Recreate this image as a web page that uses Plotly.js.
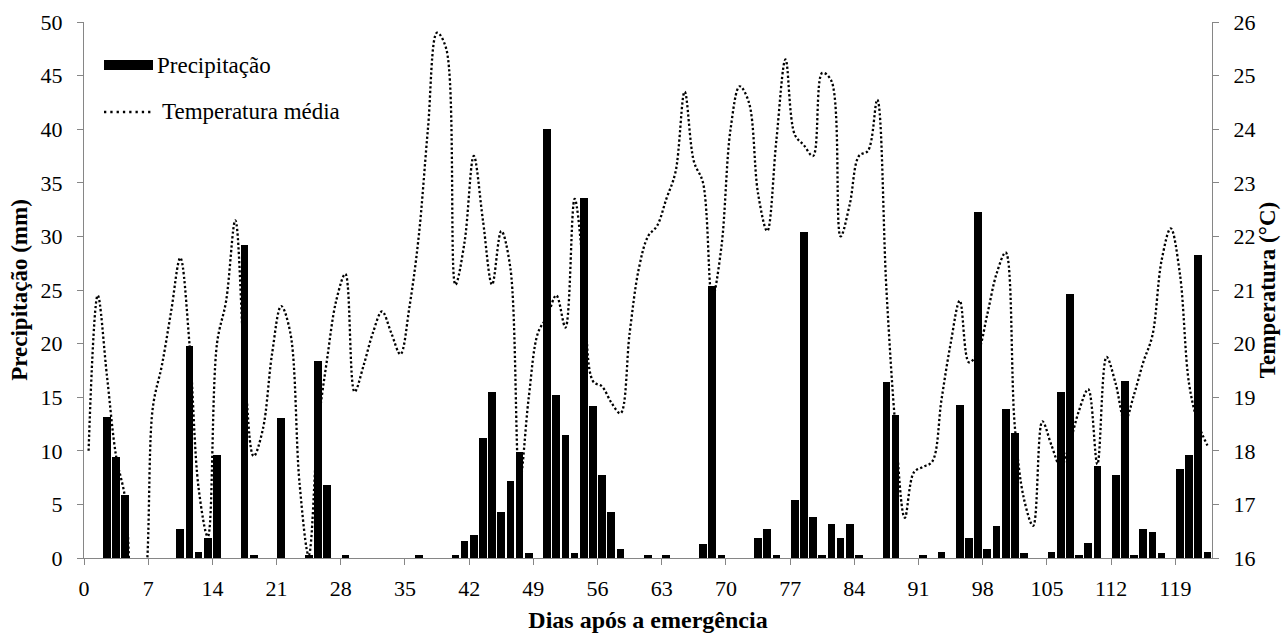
<!DOCTYPE html>
<html>
<head>
<meta charset="utf-8">
<script src="https://cdn.plot.ly/plotly-3.0.1.min.js"></script>
<style>html,body{margin:0;padding:0;background:#fff;}#chart{width:1288px;height:635px;}</style>
</head>
<body>
<div id="chart"></div>
<script>
// Day index (days after emergence), one per daily record
const days = [1,2,3,4,5,6,7,8,9,10,11,12,13,14,15,16,17,18,19,20,21,22,23,24,25,26,27,28,29,30,
  31,32,33,34,35,36,37,38,39,40,41,42,43,44,45,46,47,48,49,50,51,52,53,54,55,56,57,58,59,60,
  61,62,63,64,65,66,67,68,69,70,71,72,73,74,75,76,77,78,79,80,81,82,83,84,85,86,87,88,89,90,
  91,92,93,94,95,96,97,98,99,100,101,102,103,104,105,106,107,108,109,110,111,112,113,114,115,116,117,118,119,120,
  121,122,123];

// Precipitação (mm)
const precipitacao = [0,0,13.2,9.4,5.9,0,0,0,0,0,2.7,19.8,0.6,1.9,9.6,0,0,29.2,0.3,0,
  0,13.1,0,0,0.3,18.4,6.8,0,0.3,0,0,0,0,0,0,0,0.3,0,0,0,
  0.3,1.6,2.1,11.2,15.5,4.3,7.2,9.9,0.5,0,40.0,15.2,11.5,0.5,33.6,14.2,7.7,4.3,0.8,0,
  0,0.3,0,0.3,0,0,0,1.3,25.4,0.3,0,0,0,1.9,2.7,0.3,0,5.4,30.4,3.8,
  0.3,3.2,1.9,3.2,0.3,0,0,16.4,13.3,0,0,0.3,0,0.6,0,14.3,1.9,32.3,0.8,3.0,
  13.9,11.7,0.5,0,0,0.6,15.5,24.6,0.3,1.4,8.6,0,7.7,16.5,0.3,2.7,2.4,0.5,0,8.3,
  9.6,28.3,0.6];

// Temperatura média (°C)
const temperatura = [18.0,20.9,19.4,17.9,17.1,14.9,15.3,18.8,19.6,20.6,21.6,20.0,17.3,16.4,20.0,20.8,22.3,19.6,17.9,18.4,
  19.8,20.7,20.2,17.4,16.05,18.4,19.7,20.8,21.3,19.1,19.6,20.2,20.6,20.2,19.8,20.7,22.0,24.0,25.8,25.5,
  21.1,21.9,23.5,22.3,21.1,22.1,21.4,17.4,19.0,20.2,20.5,20.9,20.3,22.7,21.3,19.3,19.2,18.9,18.7,20.2,
  21.4,22.0,22.2,22.7,23.2,24.7,23.4,23.0,20.85,21.8,24.0,24.8,24.5,22.8,22.1,23.8,25.3,23.9,23.7,23.5,
  25.05,24.9,22.0,22.6,23.5,23.6,24.55,21.0,18.4,16.75,17.6,17.7,17.8,18.95,20.0,20.8,19.65,19.85,20.55,21.3,
  21.7,18.45,17.1,16.6,18.55,18.1,17.7,18.15,18.75,19.15,17.75,19.75,19.25,18.55,19.05,19.65,20.15,21.55,22.15,21.3,
  19.25,18.5,18.1];

// Tick labels of the day axis
const dayTicks = [0,7,14,21,28,35,42,49,56,63,70,77,84,91,98,105,112,119];
const precipTicks = [0,5,10,15,20,25,30,35,40,45,50];
const tempTicks = [16,17,18,19,20,21,22,23,24,25,26];

const FONT = 'Liberation Serif';
const AX = '#868686';
const TICK = 22, TITLE = 23, LEG = 23;

// each daily record occupies the interval (d-1, d) of the axis
const xPos = days.map(d => d - 0.5);

const traces = [
  {
    type: 'bar', name: 'Precipitação', x: xPos, y: precipitacao,
    width: 0.84, marker: {color: '#000000', line: {width: 0}},
    yaxis: 'y', hoverinfo: 'x+y'
  },
  {
    type: 'scatter', mode: 'lines', name: 'Temperatura média', x: xPos, y: temperatura,
    yaxis: 'y2', line: {color: '#000000', width: 2.3, dash: '2.3px,2.3px', shape: 'spline', smoothing: 1}
  }
];

// legend drawn in the plot area (paper coords)
const L = 84, R = 1212, T = 22, B = 558;
const px = v => (v - L) / (R - L);
const py = v => (B - v) / (B - T);

const layout = {
  width: 1288, height: 635,
  margin: {l: 84, r: 76, t: 22, b: 77, pad: 0},
  paper_bgcolor: '#ffffff', plot_bgcolor: '#ffffff',
  showlegend: false,
  bargap: 0,
  font: {family: FONT, size: TICK, color: '#000000'},
  xaxis: {
    range: [0, 123], tickvals: dayTicks, ticktext: dayTicks.map(String),
    ticks: 'outside', ticklen: 6, tickwidth: 1, tickcolor: AX,
    showline: true, linecolor: AX, linewidth: 1,
    showgrid: false, zeroline: false, ticklabelstandoff: 5,
    tickfont: {family: FONT, size: TICK, color: '#000'},
    title: {text: '<b>Dias após a emergência</b>', font: {family: FONT, size: 24, color: '#000'}, standoff: 10}
  },
  yaxis: {
    range: [0, 50], tickvals: precipTicks,
    ticks: 'outside', ticklen: 6, tickwidth: 1, tickcolor: AX,
    showline: true, linecolor: AX, linewidth: 1,
    showgrid: false, zeroline: false, ticklabelstandoff: 10,
    tickfont: {family: FONT, size: TICK, color: '#000'},
    title: {text: '<b>Precipitação (mm)</b>', font: {family: FONT, size: TITLE, color: '#000'}, standoff: 6}
  },
  yaxis2: {
    range: [16, 26], tickvals: tempTicks, overlaying: 'y', side: 'right',
    ticks: 'outside', ticklen: 6, tickwidth: 1, tickcolor: AX,
    showline: true, linecolor: AX, linewidth: 1,
    showgrid: false, zeroline: false, ticklabelstandoff: 10,
    tickfont: {family: FONT, size: TICK, color: '#000'},
    title: {text: '<b>Temperatura (°C)</b>', font: {family: FONT, size: TITLE, color: '#000'}, standoff: 2}
  },
  shapes: [
    {type: 'rect', xref: 'paper', yref: 'paper', x0: px(104), x1: px(153), y0: py(70), y1: py(60),
     fillcolor: '#000', line: {width: 0}},
    {type: 'line', xref: 'paper', yref: 'paper', x0: px(104), x1: px(152), y0: py(112), y1: py(112),
     line: {color: '#000', width: 2.3, dash: '2.3px,4px'}}
  ],
  annotations: [
    {xref: 'paper', yref: 'paper', x: px(155), y: py(65), xanchor: 'left', yanchor: 'middle',
     text: 'Precipitação', showarrow: false, font: {family: FONT, size: LEG, color: '#000'}},
    {xref: 'paper', yref: 'paper', x: px(160), y: py(112), xanchor: 'left', yanchor: 'middle',
     text: 'Temperatura média', showarrow: false, font: {family: FONT, size: LEG, color: '#000'}}
  ]
};

Plotly.newPlot('chart', traces, layout, {displayModeBar: false, staticPlot: true});
</script>
</body>
</html>
